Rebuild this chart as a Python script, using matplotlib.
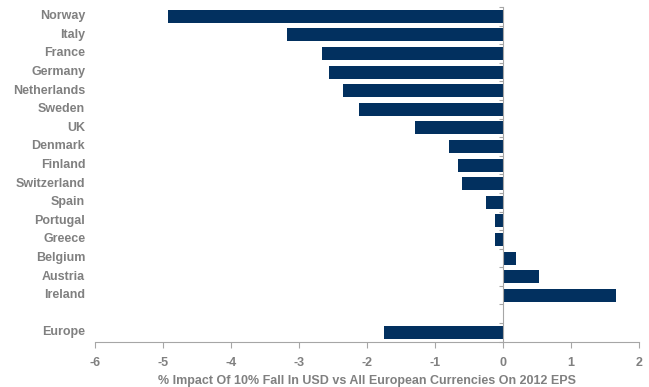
import numpy as np
import matplotlib
matplotlib.use("Agg")
import matplotlib.pyplot as plt

# EPS sensitivity to a 10% fall in USD vs all European currencies
countries = ["Norway", "Italy", "France", "Germany", "Netherlands", "Sweden",
             "UK", "Denmark", "Finland", "Switzerland", "Spain", "Portugal",
             "Greece", "Belgium", "Austria", "Ireland", "", "Europe"]
impact = [-4.92, -3.18, -2.66, -2.56, -2.35, -2.12,
          -1.29, -0.79, -0.66, -0.60, -0.25, -0.12,
          -0.12, 0.19, 0.53, 1.66, None, -1.75]
xticks = [-6, -5, -4, -3, -2, -1, 0, 1, 2]
xlabel = "% Impact Of 10% Fall In USD vs All European Currencies On 2012 EPS"

bar_color = "#02305F"
text_color = "#808080"
axis_color = "#A6A6A6"

plt.rcParams["font.family"] = ["Liberation Sans", "DejaVu Sans"]

fig = plt.figure(figsize=(6.49, 3.87), dpi=100)
ax = fig.add_axes([0.1464, 0.1171, 0.9846 - 0.1464, 0.9819 - 0.1171])

pos = np.arange(len(countries))
for y, v in zip(pos, impact):
    if v is None:
        continue
    ax.barh(y, v, height=0.7, color=bar_color, zorder=2)

ax.set_xlim(-6, 2)
ax.set_ylim(len(countries) - 0.5, -0.5)

# vertical axis sits at zero, with ticks between categories
ax.spines["left"].set_position(("data", 0))
ax.spines["left"].set_color(axis_color)
ax.spines["bottom"].set_color(axis_color)
ax.spines["top"].set_visible(False)
ax.spines["right"].set_visible(False)
ax.spines["left"].set_zorder(3)

ax.set_yticks(pos)
ax.set_yticklabels([])
ax.tick_params(axis="y", which="major", length=0)
ax.set_yticks(np.arange(len(countries) + 1) - 0.5, minor=True)
ax.tick_params(axis="y", which="minor", length=3, direction="out",
               color=axis_color, width=0.8)

# category labels at the left edge of the plot area
ytrans = ax.get_yaxis_transform()
for y, name in zip(pos, countries):
    ax.text(-0.018, y, name, transform=ytrans, ha="right", va="center",
            fontsize=9, fontweight="bold", color=text_color)

ax.set_xticks(xticks)
ax.set_xticklabels([str(t) for t in xticks], fontsize=9,
                   fontweight="bold", color=text_color)
ax.tick_params(axis="x", length=4, direction="out", color=axis_color,
               width=0.8, pad=7)
ax.set_xlabel(xlabel, fontsize=9, fontweight="bold", color=text_color,
              labelpad=4)

fig.savefig("out.png", dpi=100)
